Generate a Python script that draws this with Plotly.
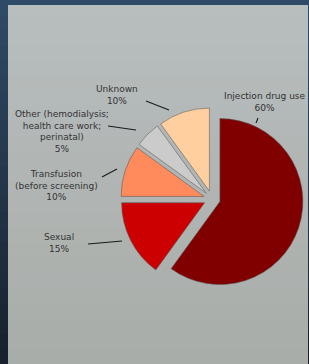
import plotly.graph_objects as go

# ---- data ----
categories = ["Injection drug use", "Sexual", "Transfusion (before screening)",
              "Other (hemodialysis; health care work; perinatal)", "Unknown"]
shares = [60, 15, 10, 5, 10]
label_texts = ["Injection drug use<br>60%", "Sexual<br>15%",
               "Transfusion<br>(before screening)<br>10%",
               "Other (hemodialysis;<br>health care work;<br>perinatal)<br>5%",
               "Unknown<br>10%"]
slice_colors = ["#800000", "#cc0000", "#ff8a5c", "#cbcbcb", "#ffcf9f"]

# ---- layout constants (pixels in a 309x364 page) ----
W, H = 309, 364
label_pos = [(265, 101.5), (59, 243.5), (56, 185), (62, 131), (117, 95)]
leader_lines = [((256, 123), (258, 118)), ((88, 244), (122, 241)),
                ((102, 177), (117, 169)), ((108, 126), (136, 130)),
                ((146, 101), (169, 110))]

def fx(x):
    return x / W

def fy(y):
    return 1 - y / H

def mix(c1, c2, t):
    a = [int(c1[i:i + 2], 16) for i in (1, 3, 5)]
    b = [int(c2[i:i + 2], 16) for i in (1, 3, 5)]
    return "#%02x%02x%02x" % tuple(round(a[k] + (b[k] - a[k]) * t) for k in range(3))

border_bands, panel_bands = [], []
nb = 24
for i in range(nb):
    t = i / (nb - 1)
    y0 = i * H / nb
    y1 = min((i + 1) * H / nb + 1.5, H)
    border_bands.append(dict(type="rect", xref="paper", yref="paper", layer="below",
                             x0=0, x1=1, y0=fy(y1), y1=fy(y0), line=dict(width=0),
                             fillcolor=mix("#2f4a67", "#18212d", t)))
    py0 = max(y0, 5)
    panel_bands.append(dict(type="rect", xref="paper", yref="paper", layer="below",
                            x0=fx(8), x1=fx(308), y0=fy(y1), y1=fy(py0),
                            line=dict(width=0),
                            fillcolor=mix("#b8bdbe", "#a9ada9", t)))
shapes = border_bands + panel_bands

for (x0, y0), (x1, y1) in leader_lines:
    shapes.append(dict(type="line", xref="paper", yref="paper",
                       x0=fx(x0), y0=fy(y0), x1=fx(x1), y1=fy(y1),
                       line=dict(color="#1a1a1a", width=1.1)))

annotations = []
for txt, (x, y) in zip(label_texts, label_pos):
    annotations.append(dict(text=txt, x=fx(x), y=fy(y), xref="paper", yref="paper",
                            xanchor="center", yanchor="middle", showarrow=False,
                            align="center",
                            font=dict(family="DejaVu Sans", size=9, color="#333333")))

r = 83
pull = 0.1
cx, cy = 212, 199
half = r * (1 + pull)

fig = go.Figure(go.Pie(
    labels=categories, values=shares, sort=False, direction="clockwise",
    rotation=0, pull=[pull] * len(shares), textinfo="none", hoverinfo="label+percent",
    marker=dict(colors=slice_colors, line=dict(color="rgba(90,90,90,0.7)", width=0.8)),
    domain=dict(x=[fx(cx - half), fx(cx + half)], y=[fy(cy + half), fy(cy - half)]),
    showlegend=False,
))

fig.update_layout(width=W, height=H, margin=dict(l=0, r=0, t=0, b=0),
                  paper_bgcolor="#2f4a67", plot_bgcolor="rgba(0,0,0,0)",
                  shapes=shapes, annotations=annotations, showlegend=False)

fig.write_html("out.html", config={"displayModeBar": False},
               post_script="document.body.style.margin='0px';"
                           "document.body.style.background='#1f2c3c';")
